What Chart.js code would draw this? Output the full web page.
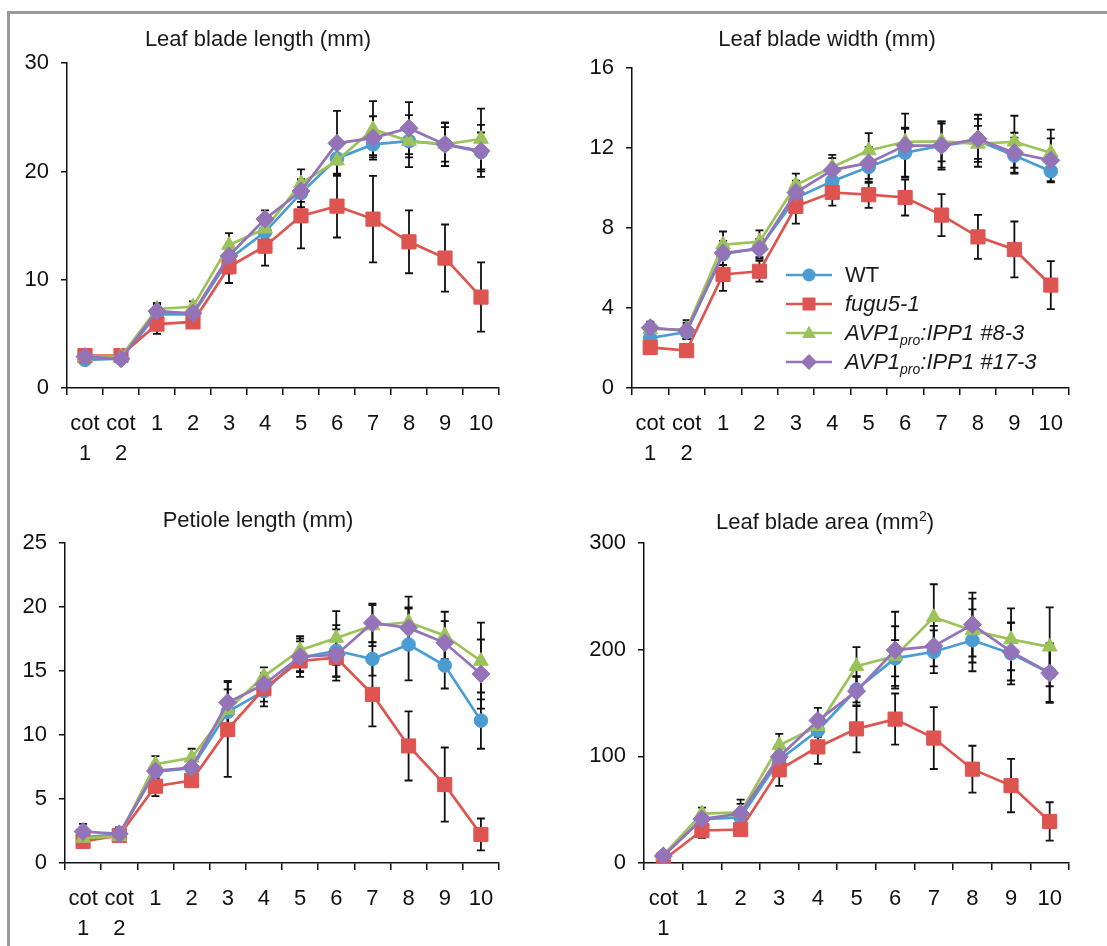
<!DOCTYPE html>
<html><head><meta charset="utf-8">
<script src="https://cdn.jsdelivr.net/npm/chart.js@4.4.1/dist/chart.umd.min.js"></script>
<style>
html,body{margin:0;overflow:hidden;}
body{background:#fff;width:1107px;height:946px;position:relative;font-family:"Liberation Sans",Arial,sans-serif;}
.frame{position:absolute;left:7px;top:11px;width:1100px;height:935px;border-top:3px solid #9a9a9a;border-left:3px solid #9a9a9a;}
.panel{position:absolute;}
.title{position:absolute;font-size:22px;color:#1a1a1a;transform:translate(-50%,-50%);white-space:nowrap;}
.title sup{font-size:14px;vertical-align:8px;line-height:0;}
.legend{position:absolute;left:786px;top:260px;font-size:22px;color:#1a1a1a;}
.row{height:29px;display:flex;align-items:center;white-space:nowrap;}
.row svg{margin-right:13px;flex:none;}
.row i sub{font-size:14px;vertical-align:-5px;line-height:0;}
</style>
</head><body>
<div class="frame"></div>
<div class="panel" id="p1"><canvas id="c1"></canvas></div>
<div class="panel" id="p2"><canvas id="c2"></canvas></div>
<div class="panel" id="p3"><canvas id="c3"></canvas></div>
<div class="panel" id="p4"><canvas id="c4"></canvas></div>
<div class="title" style="left:258px;top:39px">Leaf blade length (mm)</div>
<div class="title" style="left:827px;top:39px">Leaf blade width (mm)</div>
<div class="title" style="left:258px;top:520px">Petiole length (mm)</div>
<div class="title" style="left:825px;top:522px">Leaf blade area (mm<sup>2</sup>)</div>
<div class="legend">
  <div class="row"><svg width="46" height="24"><line x1="0" y1="12" x2="46" y2="12" stroke="#4B9CD3" stroke-width="2.5"/><circle cx="23" cy="12" r="6.5" fill="#4B9CD3"/></svg><span>WT</span></div>
  <div class="row"><svg width="46" height="24"><line x1="0" y1="12" x2="46" y2="12" stroke="#DD5450" stroke-width="2.5"/><rect x="16.5" y="5.5" width="13" height="13" fill="#DD5450"/></svg><i>fugu5-1</i></div>
  <div class="row"><svg width="46" height="24"><line x1="0" y1="12" x2="46" y2="12" stroke="#9CC25A" stroke-width="2.5"/><polygon points="23,4.5 30,17 16,17" fill="#9CC25A"/></svg><i>AVP1<sub>pro</sub>:IPP1 #8-3</i></div>
  <div class="row"><svg width="46" height="24"><line x1="0" y1="12" x2="46" y2="12" stroke="#9473B8" stroke-width="2.5"/><polygon points="23,4 31,12 23,20 15,12" fill="#9473B8"/></svg><i>AVP1<sub>pro</sub>:IPP1 #17-3</i></div>
</div>
<script>
// ---- categories ----
const leafCats12 = [['cot','1'],['cot','2'],'1','2','3','4','5','6','7','8','9','10'];
const leafCats11 = [['cot','1'],'1','2','3','4','5','6','7','8','9','10'];
const seriesNames = ['WT','fugu5-1','AVP1pro:IPP1 #8-3','AVP1pro:IPP1 #17-3'];

// ---- Leaf blade length (mm) ----
const lenWT    = [2.6,2.7,6.8,6.8,11.9,14.4,18.0,21.2,22.5,22.8,22.5,21.8];
const lenFugu  = [3.0,3.0,5.9,6.1,11.2,13.1,15.9,16.8,15.6,13.5,12.0,8.4];
const lenL8    = [2.9,2.9,7.3,7.5,13.2,14.7,18.9,21.0,23.9,22.8,22.5,23.0];
const lenL17   = [2.9,2.7,7.1,6.9,12.2,15.6,18.2,22.6,23.1,24.0,22.5,21.9];
const lenWTsd  = [0.3,0.3,0.6,0.5,1.3,0.5,1.3,1.4,1.0,1.5,2.0,1.8];
const lenFugusd= [0.3,0.3,0.9,0.5,1.5,1.8,3.0,2.9,4.0,2.9,3.1,3.2];
const lenL8sd  = [0.3,0.4,0.55,0.5,1.1,0.8,1.3,1.3,2.6,2.4,1.6,2.8];
const lenL17sd = [0.3,0.3,0.6,0.6,1.2,0.8,1.0,3.0,2.0,2.4,2.0,2.4];

// ---- Leaf blade width (mm) ----
const widWT    = [2.5,2.8,6.7,7.0,9.5,10.35,11.06,11.77,12.13,12.37,11.63,10.85];
const widFugu  = [2.03,1.87,5.68,5.84,9.09,9.78,9.67,9.53,8.65,7.56,6.93,5.15];
const widL8    = [2.94,2.94,7.17,7.32,10.16,11.06,11.88,12.32,12.34,12.21,12.32,11.77];
const widL17   = [3.02,2.86,6.76,6.96,9.78,10.9,11.26,12.13,12.13,12.46,11.77,11.39];
const widWTsd  = [0.3,0.35,0.55,0.45,0.5,0.6,0.8,1.2,1.1,1.3,0.9,0.5];
const widFugusd= [0.2,0.2,0.82,0.52,0.87,0.66,0.66,0.9,1.05,1.1,1.4,1.2];
const widL8sd  = [0.3,0.45,0.66,0.57,0.57,0.6,0.87,0.7,1.0,0.9,1.3,1.16];
const widL17sd = [0.3,0.4,0.6,0.5,0.6,0.6,0.8,1.6,1.2,1.0,1.0,1.1];

// ---- Petiole length (mm) ----
const petWT    = [2.03,2.23,7.15,7.41,11.82,13.44,16.05,16.59,15.95,17.08,15.44,11.13];
const petFugu  = [1.69,2.15,6.0,6.44,10.44,13.62,15.79,16.05,13.18,9.15,6.13,2.23];
const petL8    = [1.95,2.08,7.72,8.23,11.97,14.59,16.64,17.59,18.56,18.82,17.79,15.79];
const petL17   = [2.46,2.28,7.2,7.46,12.54,13.95,16.13,16.26,18.77,18.38,17.21,14.77];
const petWTsd  = [0.3,0.3,0.5,0.5,1.0,1.2,1.5,2.0,1.3,2.8,1.8,2.2];
const petFugusd= [0.2,0.3,0.77,0.4,3.7,1.0,0.8,1.5,2.5,2.7,2.9,1.25];
const petL8sd  = [0.3,0.3,0.64,0.7,1.6,0.7,1.1,2.1,1.6,2.0,1.85,3.0];
const petL17sd = [0.6,0.5,0.6,0.6,1.7,0.9,1.2,2.0,1.5,1.6,1.7,2.7];

// ---- Leaf blade area (mm2) ----
const areaWT    = [6.5,41.2,42.8,96.6,124.3,162.7,192.0,198.2,208.9,196.6,178.2];
const areaFugu  = [2.8,30.5,31.4,87.4,108.9,125.8,135.0,117.2,88.0,72.6,39.0];
const areaL8    = [7.4,46.4,47.4,110.5,128.3,184.6,194.1,230.5,218.1,209.8,202.8];
const areaL17   = [6.5,41.2,46.4,99.7,133.6,161.2,199.7,203.4,223.7,198.2,178.2];
const areaWTsd  = [2,4,5,10,10,12,17,20,29,29,28];
const areaFugusd= [2,7,4,15,16,22,24,29,22,25,18];
const areaL8sd  = [2,5.6,8,10.7,10,18,28,31,30,29,37];
const areaL17sd = [2,5,13,10,12,14,36,19,30,27,27];

// ---- y axis ticks ----
const lenTicks  = [0,10,20,30];
const widTicks  = [0,4,8,12,16];
const petTicks  = [0,5,10,15,20,25];
const areaTicks = [0,100,200,300];

const FONT = '"Liberation Sans", Arial, Helvetica, sans-serif';
const COLORS = ['#4B9CD3','#DD5450','#9CC25A','#9473B8'];
const STYLES = [
  {pointStyle:'circle', radius:6.8},
  {pointStyle:'rect', radius:10},
  {pointStyle:'triangle', radius:8.5},
  {pointStyle:'rectRot', radius:9}
];
const ORDERS = [3,2,1,0];

const errorBars = {
  id:'errorBars',
  beforeDatasetsDraw(chart){
    const ctx = chart.ctx, ys = chart.scales.y;
    ctx.save();
    ctx.strokeStyle = '#111';
    ctx.lineWidth = 1.8;
    chart.data.datasets.forEach((ds, di) => {
      const meta = chart.getDatasetMeta(di);
      ds.errors.forEach((e, i) => {
        const pt = meta.data[i], v = ds.data[i];
        const yt = ys.getPixelForValue(v + e), yb = ys.getPixelForValue(Math.max(0, v - e));
        ctx.beginPath();
        ctx.moveTo(pt.x, yt); ctx.lineTo(pt.x, yb);
        ctx.moveTo(pt.x - 4, yt); ctx.lineTo(pt.x + 4, yt);
        ctx.moveTo(pt.x - 4, yb); ctx.lineTo(pt.x + 4, yb);
        ctx.stroke();
      });
    });
    ctx.restore();
  }
};

function makePanel(id, canvasId, area, yW, cats, values, sds, ticks){
  const padTop = 20, padRight = 20, xH = 80;
  const cont = document.getElementById(id);
  const left = area.l - yW, top = area.t - padTop;
  const width = area.r - left + padRight, height = area.b - top + xH;
  cont.style.left = left + 'px'; cont.style.top = top + 'px';
  const cv = document.getElementById(canvasId);
  cv.width = width; cv.height = height;
  cv.style.width = width + 'px'; cv.style.height = height + 'px';
  const datasets = values.map((v, k) => ({
    label: seriesNames[k],
    data: v,
    errors: sds[k],
    order: ORDERS[k],
    borderColor: COLORS[k],
    backgroundColor: COLORS[k],
    pointBackgroundColor: COLORS[k],
    pointBorderColor: COLORS[k],
    pointBorderWidth: 1,
    pointStyle: STYLES[k].pointStyle,
    pointRadius: STYLES[k].radius,
    borderWidth: 2.7,
    tension: 0
  }));
  new Chart(cv, {
    type: 'line',
    data: {labels: cats, datasets},
    plugins: [errorBars],
    options: {
      responsive: false, animation: false, devicePixelRatio: 1,
      layout: {padding: {top: padTop, right: padRight, left: 0, bottom: 0}},
      plugins: {legend: {display: false}, tooltip: {enabled: false}, title: {display: false}},
      scales: {
        x: {
          type: 'category', offset: true,
          grid: {display: true, offset: true, drawOnChartArea: false, drawTicks: true, tickLength: 7, color: '#111', lineWidth: 1.5},
          border: {display: true, color: '#111', width: 1.5},
          ticks: {color: '#111', font: {family: FONT, size: 22, lineHeight: 1.36}, padding: 14, maxRotation: 0, minRotation: 0, autoSkip: false},
          afterFit(s){ s.height = xH; }
        },
        y: {
          min: ticks[0], max: ticks[ticks.length - 1],
          afterBuildTicks(s){ s.ticks = ticks.map(v => ({value: v})); },
          grid: {display: true, drawOnChartArea: false, drawTicks: true, tickLength: 6, color: '#111', lineWidth: 1.5},
          border: {display: true, color: '#111', width: 1.5},
          ticks: {color: '#111', font: {family: FONT, size: 22}, padding: 12},
          afterFit(s){ s.width = yW; }
        }
      }
    }
  });
}

makePanel('p1','c1',{l:67,t:58,r:499,b:388},67,leafCats12,
  [lenWT,lenFugu,lenL8,lenL17],[lenWTsd,lenFugusd,lenL8sd,lenL17sd],lenTicks);
makePanel('p2','c2',{l:632,t:63,r:1069,b:388},70,leafCats12,
  [widWT,widFugu,widL8,widL17],[widWTsd,widFugusd,widL8sd,widL17sd],widTicks);
makePanel('p3','c3',{l:65,t:538,r:499,b:863},65,leafCats12,
  [petWT,petFugu,petL8,petL17],[petWTsd,petFugusd,petL8sd,petL17sd],petTicks);
makePanel('p4','c4',{l:644,t:538,r:1069,b:863},70,leafCats11,
  [areaWT,areaFugu,areaL8,areaL17],[areaWTsd,areaFugusd,areaL8sd,areaL17sd],areaTicks);
</script>
</body></html>
